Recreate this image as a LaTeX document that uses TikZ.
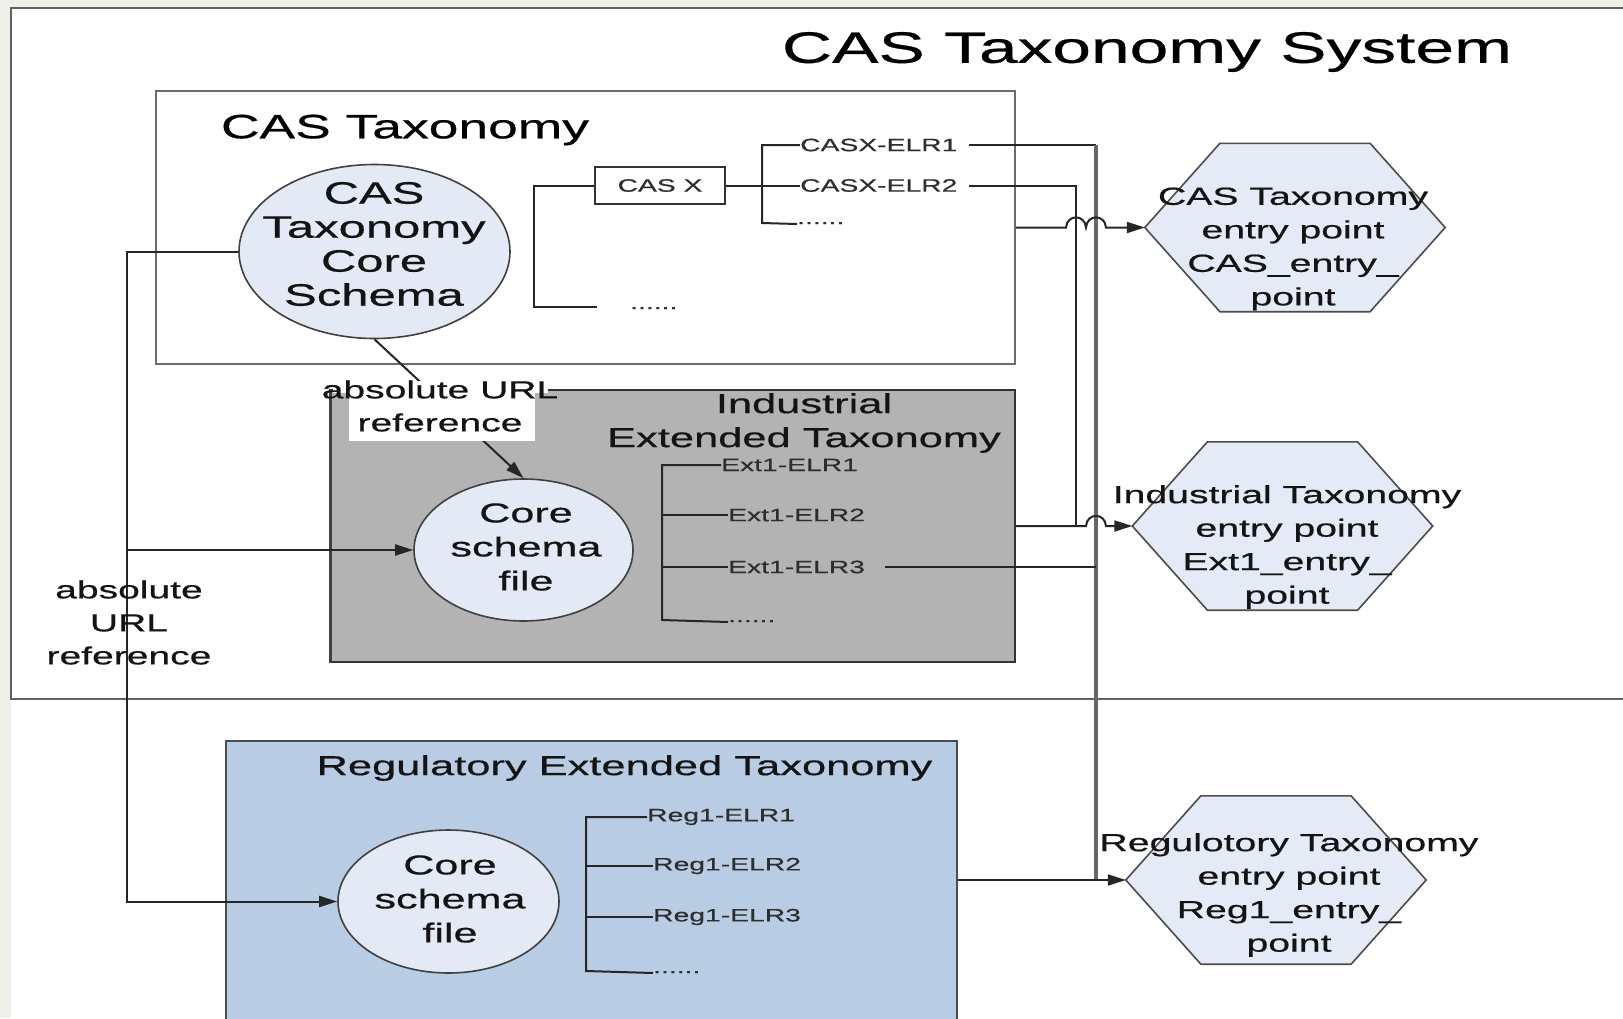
\documentclass[tikz,border=0pt]{standalone}
\usepackage{fontspec}
\setmainfont{Liberation Sans}[FakeStretch=1.58,FakeBold=0.6]
\usetikzlibrary{shapes.geometric,arrows.meta,calc}
\definecolor{bgbeige}{HTML}{EFEEE8}
\definecolor{ellfill}{HTML}{E3EAF6}
\definecolor{hexfill}{HTML}{E4EAF6}
\definecolor{indfill}{HTML}{B3B3B3}
\definecolor{regfill}{HTML}{B8CCE4}
\newcommand\myfs[2]{\fontsize{#1pt}{#2pt}\selectfont}
\newcommand\hexpath[1]{%
  \draw[hexdraw] (#1.west) -- ($(#1.north west)!.25!(#1.north east)$) -- ($(#1.north west)!.75!(#1.north east)$) -- (#1.east) -- ($(#1.south west)!.75!(#1.south east)$) -- ($(#1.south west)!.25!(#1.south east)$) -- cycle;}
\begin{document}
\begin{tikzpicture}[x=1pt,y=-1pt,
  conn/.style={draw=black!85, line width=2pt},
  arr/.style={conn, -{Triangle[length=18pt,width=11pt]}},
  vline/.style={draw=black!60, line width=3.4pt},
  treeline/.style={draw=black!85, line width=2pt},
  treetxt/.style={inner sep=0pt, anchor=west, text=black!82, font=\myfs{17.9}{20}},
  dotstxt/.style={inner sep=0pt, anchor=base west, text=black!82, font=\myfs{17.9}{20}},
  frame/.style={rectangle, inner sep=0pt},
  ellnode/.style={ellipse, draw=black!75, line width=1.6pt, fill=ellfill, inner sep=0pt},
  hexnode/.style={rectangle, inner sep=0pt, minimum width=300pt, minimum height=168pt},
  hexdraw/.style={draw=black!70, line width=1.6pt, fill=hexfill},
  inner/.style={align=center, inner sep=0pt, text=black!92},
  lbl/.style={align=center, inner sep=0pt, text=black!92, font=\myfs{24.7}{33}}
]
\useasboundingbox (0,0) rectangle (1623,1018);
\clip (0,0) rectangle (1623,1018);
\fill[bgbeige] (0,0) rectangle (1623,1018);
\fill[white] (11,8) rectangle (1623,1018);

% outer system frame
\node[frame, draw=black!62, line width=2.4pt, minimum width=1640pt, minimum height=691pt] (sys) at (831,353.5) {};
\node[font=\myfs{44}{50}, inner sep=0pt] (title) at (1147,52) {CAS Taxonomy System};

% CAS taxonomy box
\node[frame, draw=black!58, line width=2.4pt, fill=white, minimum width=859pt, minimum height=273pt] (cas) at (585.5,227.5) {};
\node[font=\myfs{33.8}{40}, inner sep=0pt] (caslbl) at (405,130) {CAS Taxonomy};

% Industrial box
\node[frame, draw=black!80, line width=2pt, fill=indfill, minimum width=684pt, minimum height=272pt] (ind) at (673,526) {};
\draw[draw=black!75, line width=3pt] (ind.north west) -- (ind.south west);
\node[inner, font=\myfs{27.5}{34}] (indlbl) at (804,423) {Industrial\\Extended Taxonomy};

% Regulatory box
\node[frame, draw=black!70, line width=2pt, fill=regfill, minimum width=731pt, minimum height=298pt] (reg) at (591.5,890) {};
\node[inner, font=\myfs{27.5}{34}] (reglbl) at (624.5,768) {Regulatory Extended Taxonomy};

% ellipses / circles
\node[ellnode, minimum width=271pt, minimum height=174pt] (ell1) at (374.5,251.5) {};
\node[inner, font=\myfs{31}{34}] (ell1t) at (374,244) {CAS\\Taxonomy\\Core\\Schema};
\node[ellnode, minimum width=219pt, minimum height=142pt] (c2) at (523.5,550) {};
\node[inner, font=\myfs{27.3}{34}] (c2t) at (526,547) {Core\\schema\\file};
\node[ellnode, minimum width=221pt, minimum height=143pt] (c3) at (448.5,901.5) {};
\node[inner, font=\myfs{27.3}{34}] (c3t) at (450,899) {Core\\schema\\file};

% hexagons
\node[hexnode] (h1) at (1295,227.5) {};
\hexpath{h1}
\node[inner, font=\myfs{24.8}{33.5}] (h1t) at (1293,249) {CAS Taxonomy\\entry point\\CAS\_entry\_\\point};
\node[hexnode] (h2) at (1282.5,526) {};
\hexpath{h2}
\node[inner, font=\myfs{24.8}{33.5}] (h2t) at (1287,547) {Industrial Taxonomy\\entry point\\Ext1\_entry\_\\point};
\node[hexnode] (h3) at (1276,880) {};
\hexpath{h3}
\node[inner, font=\myfs{24.8}{33.5}] (h3t) at (1289,895) {Regulotory Taxonomy\\entry point\\Reg1\_entry\_\\point};

% CAS tree
\node[draw=black!80, line width=1.8pt, fill=white, minimum width=130pt, minimum height=37pt, inner sep=0pt, font=\myfs{17.9}{20}, text=black!82] (casx) at (660,185.5) {CAS X};
\coordinate (b1e) at (597,307);
\node[dotstxt] (cd1) at (630,309) {......};
\draw[treeline] (casx.west) -- (534,185.5) -- (534,307) -- (b1e);
\node[treetxt] (c1) at (800,145) {CASX-ELR1};
\node[treetxt] (c2l) at (800,185.5) {CASX-ELR2};
\node[dotstxt] (cd2) at (797,224) {......};
\draw[treeline] (casx.east) -- (c2l.west);
\draw[treeline] (c1.west) -- (762,145) -- (762,223) -- (cd2.base west);

% Ext tree
\node[treetxt] (x1) at (721,465) {Ext1-ELR1};
\node[treetxt] (x2) at (728,515) {Ext1-ELR2};
\node[treetxt] (x3) at (728,567) {Ext1-ELR3};
\node[dotstxt] (xd) at (728,622) {......};
\draw[treeline] (x1.west) -- (662,465) -- (662,620) -- (xd.base west);
\draw[treeline] (662,515) -- (x2.west);
\draw[treeline] (662,567) -- (x3.west);

% Reg tree
\node[treetxt] (r1) at (647,817) {Reg1-ELR1};
\node[treetxt] (r2) at (653,866) {Reg1-ELR2};
\node[treetxt] (r3) at (653,917) {Reg1-ELR3};
\node[dotstxt] (rd) at (653,973) {......};
\draw[treeline] (r1.west) -- (586,817) -- (586,971) -- (rd.base west);
\draw[treeline] (586,866) -- (r2.west);
\draw[treeline] (586,917) -- (r3.west);

% right-hand connectors
\coordinate (j3) at (1096,880);
\coordinate (j2) at (1076,526);
\draw[conn] ([xshift=11pt]c1.east) -- (1096,145);
\draw[vline] (1096,145) -- (j3);
\draw[conn] ([xshift=11pt]c2l.east) -| (j2);
\draw[conn] ([xshift=20pt]x3.east) -- (1096,567);
\draw[arr] (cas.east) -- (1066,227.5) .. controls (1067,214) and (1085,214) .. (1086,227.5) -- (1086,227.5) .. controls (1087,214) and (1105,214) .. (1106,227.5) -- (h1.west);
\draw[arr] (ind.east) -- (1086,526) .. controls (1087,512.5) and (1105,512.5) .. (1106,526) -- (h2.west);
\draw[arr] (reg.east |- h3.west) -- (h3.west);

% left connectors
\coordinate (lx) at (127,0);
\draw[arr] (ell1.west) -- (lx |- ell1.west) |- (c3.west);
\draw[arr] (lx |- c2.west) -- (c2.west);
\node[lbl] (url2) at (129,622.5) {absolute\\URL\\reference};

% middle reference connector with label
\draw[arr] (ell1.south) -- (c2.north);
\fill[white] (333,381) rectangle (548,393);
\fill[white] (349,381) rectangle (535,441);
\node[lbl] (url1) at (440,406) {absolute URL\\reference};
\end{tikzpicture}
\end{document}
